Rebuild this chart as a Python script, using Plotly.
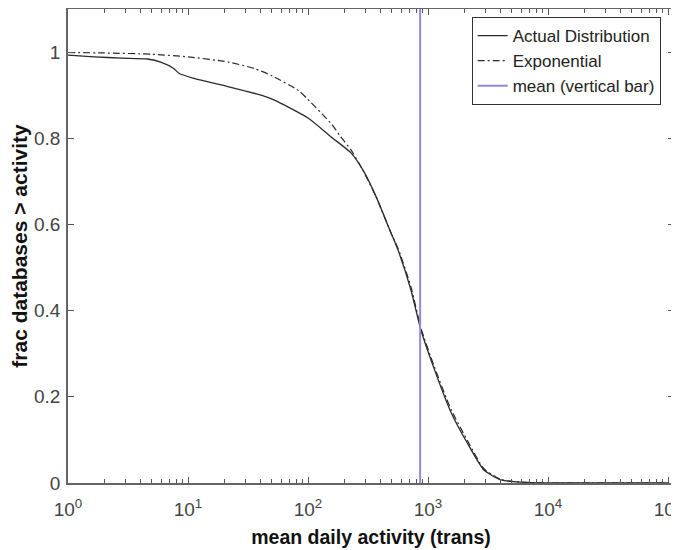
import plotly.graph_objects as go

# values (x in transactions/day, y = fraction of databases above x)
actual_x = [1, 1.65, 2.8, 4.6, 6.0, 7.6, 8.4, 11.2, 21.5, 40.6, 52, 100, 156, 228,
            293, 370, 492, 562, 721, 873, 1122, 1549, 2154, 2929, 4057, 5210, 7210,
            10000, 100000]
actual_y = [0.993, 0.989, 0.986, 0.984, 0.976, 0.962, 0.951, 0.939, 0.920, 0.900,
            0.889, 0.847, 0.803, 0.766, 0.722, 0.664, 0.58, 0.541, 0.448, 0.355,
            0.266, 0.165, 0.09, 0.03, 0.007, 0.003, 0.001, 0.0, 0.0]

expo_x = [1, 2, 5, 10, 21.5, 35.5, 50, 84, 100, 156, 188, 228, 266, 300, 370, 492,
          562, 721, 873, 1122, 1549, 2154, 2929, 4057, 5210, 7210, 10000, 100000]
expo_y = [0.999, 0.998, 0.995, 0.989, 0.977, 0.962, 0.945, 0.91, 0.89, 0.834, 0.803,
          0.773, 0.742, 0.715, 0.664, 0.58, 0.545, 0.455, 0.36, 0.272, 0.172, 0.096,
          0.033, 0.008, 0.003, 0.001, 0.0, 0.0]

mean_activity = 860

x_major = [1, 10, 100, 1000, 10000, 100000]
x_major_text = ["10<sup>0</sup>", "10<sup>1</sup>", "10<sup>2</sup>",
                "10<sup>3</sup>", "10<sup>4</sup>", "10<sup>5</sup>"]
x_minor = [m * d for d in [1, 10, 100, 1000, 10000] for m in range(2, 10)]
y_ticks = [0, 0.2, 0.4, 0.6, 0.8, 1]
y_tick_text = ["0", "0.2", "0.4", "0.6", "0.8", "1"]

FONT = "Liberation Sans, Arial, sans-serif"
TICK_GREY = "#555555"

fig = go.Figure()
fig.add_trace(go.Scatter(x=actual_x, y=actual_y, mode="lines", name="Actual Distribution",
                         line=dict(color="#2b2b2b", width=1.3, shape="spline", smoothing=0.6)))
fig.add_trace(go.Scatter(x=expo_x, y=expo_y, mode="lines", name="Exponential",
                         line=dict(color="#2b2b2b", width=1.2, dash="7px,3px,2px,3px",
                                   shape="spline", smoothing=0.6)))
fig.add_trace(go.Scatter(x=[mean_activity, mean_activity], y=[0, 1.1], mode="lines",
                         name="mean (vertical bar)",
                         line=dict(color="#9488d8", width=2)))

# the page body has an 8px margin, so the figure is a bit smaller than the window
fig.update_layout(
    width=671, height=542,
    margin=dict(l=60, r=5, t=1, b=67),
    paper_bgcolor="white", plot_bgcolor="white",
    font=dict(family=FONT, color="#444444", size=19),
    legend=dict(x=0.978, y=0.983, xanchor="right", yanchor="top",
                bgcolor="white", bordercolor="#333333", borderwidth=1,
                font=dict(size=17, color="#222222"), tracegroupgap=0),
    showlegend=True,
)

fig.update_xaxes(
    type="log", range=[0, 5.05],
    tickmode="array", tickvals=x_major, ticktext=x_major_text,
    ticks="inside", ticklen=6, tickcolor=TICK_GREY, tickwidth=1,
    ticklabelstandoff=8, ticklabeloverflow="allow",
    minor=dict(tickmode="array", tickvals=x_minor, ticks="inside", ticklen=4,
               tickcolor=TICK_GREY, tickwidth=1, showgrid=False),
    showline=True, linecolor="#666666", linewidth=1.5, mirror="ticks",
    showgrid=False, zeroline=False, automargin=False,
    title=dict(text="<b>mean daily activity (trans)</b>", font=dict(size=19.5, color="#111111"),
               standoff=12),
)
fig.update_yaxes(
    range=[0, 1.1],
    tickmode="array", tickvals=y_ticks, ticktext=y_tick_text,
    ticks="inside", ticklen=6, tickcolor=TICK_GREY, tickwidth=1, ticklabelstandoff=2,
    showline=True, linecolor="#666666", linewidth=1.5, mirror="ticks",
    showgrid=False, zeroline=False, automargin=False,
    title=dict(text="<b>frac databases &gt; activity</b>", font=dict(size=21, color="#111111"),
               standoff=8),
)

fig.write_html("out.html")
